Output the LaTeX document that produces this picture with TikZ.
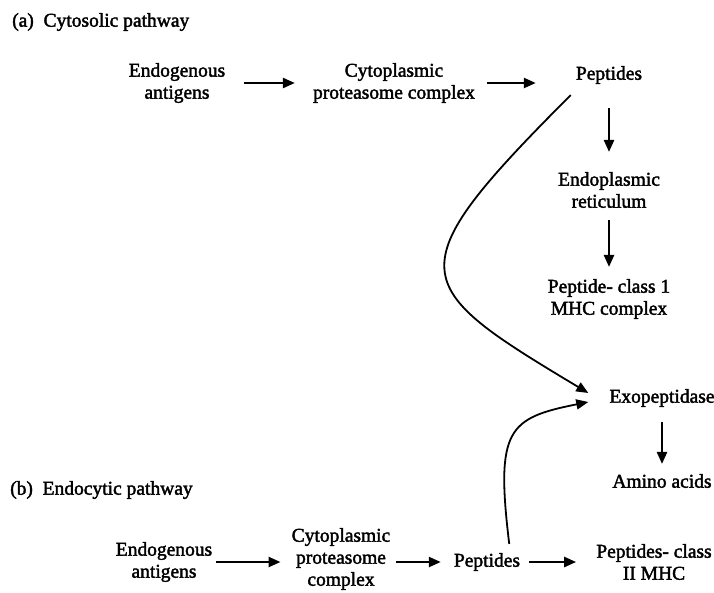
\documentclass[tikz,border=0pt]{standalone}
\usepackage{fontspec}
\setmainfont{Liberation Serif}[FakeBold=2]
\usetikzlibrary{arrows.meta}
\begin{document}
\begin{tikzpicture}
  % antigen processing: cytosolic and endocytic routes
  [x=1pt,y=-1pt,
   every node/.style={font=\fontsize{19.5}{22}\selectfont, align=center, inner sep=0pt},
   arr/.style={-{Triangle[length=12pt,width=10pt]}, line width=2.4pt},
   bend arr/.style={-{Triangle[length=12pt,width=10pt]}, line width=1.8pt}]
  \useasboundingbox (0,0) rectangle (714,592);
  % (a)
  \node[anchor=west] (titleA) at (12,22) {(a)\ \ Cytosolic pathway};
  \node (endoA) at (177,83) {Endogenous\\antigens};
  \node (cytoA) at (394,83) {Cytoplasmic\\proteasome complex};
  \node (pepA) at (609,75) {Peptides};
  \node (erA) at (609,190) {Endoplasmic\\reticulum};
  \node (mhcA) at (609,299) {Peptide- class 1\\MHC complex};
  \node (exo) at (662,398) {Exopeptidase};
  \node (amino) at (662,481) {Amino acids};
  \draw[arr, shorten <=19pt, shorten >=18pt] (endoA) -- (cytoA);
  \draw[arr, shorten <=12pt, shorten >=40pt] (cytoA.east) -- (cytoA.east -| pepA.west);
  \draw[arr, shorten <=24pt, shorten >=20pt] (pepA) -- (erA);
  \draw[arr, shorten <=12pt, shorten >=12pt] (erA) -- (mhcA);
  \draw[arr, shorten <=15pt, shorten >=10pt] (exo) -- (amino);
  % (b)
  \node[anchor=west] (titleB) at (10,490) {(b)\ \ Endocytic pathway};
  \node (endoB) at (164,562) {Endogenous\\antigens};
  \node (cytoB) at (341,559) {Cytoplasmic\\proteasome\\complex};
  \node (pepB) at (487,562) {Peptides};
  \node (mhcB) at (654,562) {Peptides- class\\II MHC};
  \draw[arr, shorten <=4pt, shorten >=11pt] (endoB.east) -- (endoB.east -| cytoB.west);
  \draw[arr, shorten <=6pt, shorten >=13pt] (pepB.west -| cytoB.east) -- (pepB.west);
  \draw[arr, shorten <=9pt, shorten >=20pt] (pepB) -- (mhcB);
  % both routes end at the exopeptidase
  \draw[bend arr] ([xshift=-5pt,yshift=-11pt]pepA.south west)
    .. controls +(-177,177) and +(-180,-108) .. ([xshift=-21pt,yshift=5pt]exo.west);
  \draw[bend arr] ([xshift=-11pt,yshift=9pt]pepB.north east)
    .. controls +(-14,-115) and +(-80,16) .. ([xshift=-21pt,yshift=-4pt]exo.west);
\end{tikzpicture}
\end{document}
